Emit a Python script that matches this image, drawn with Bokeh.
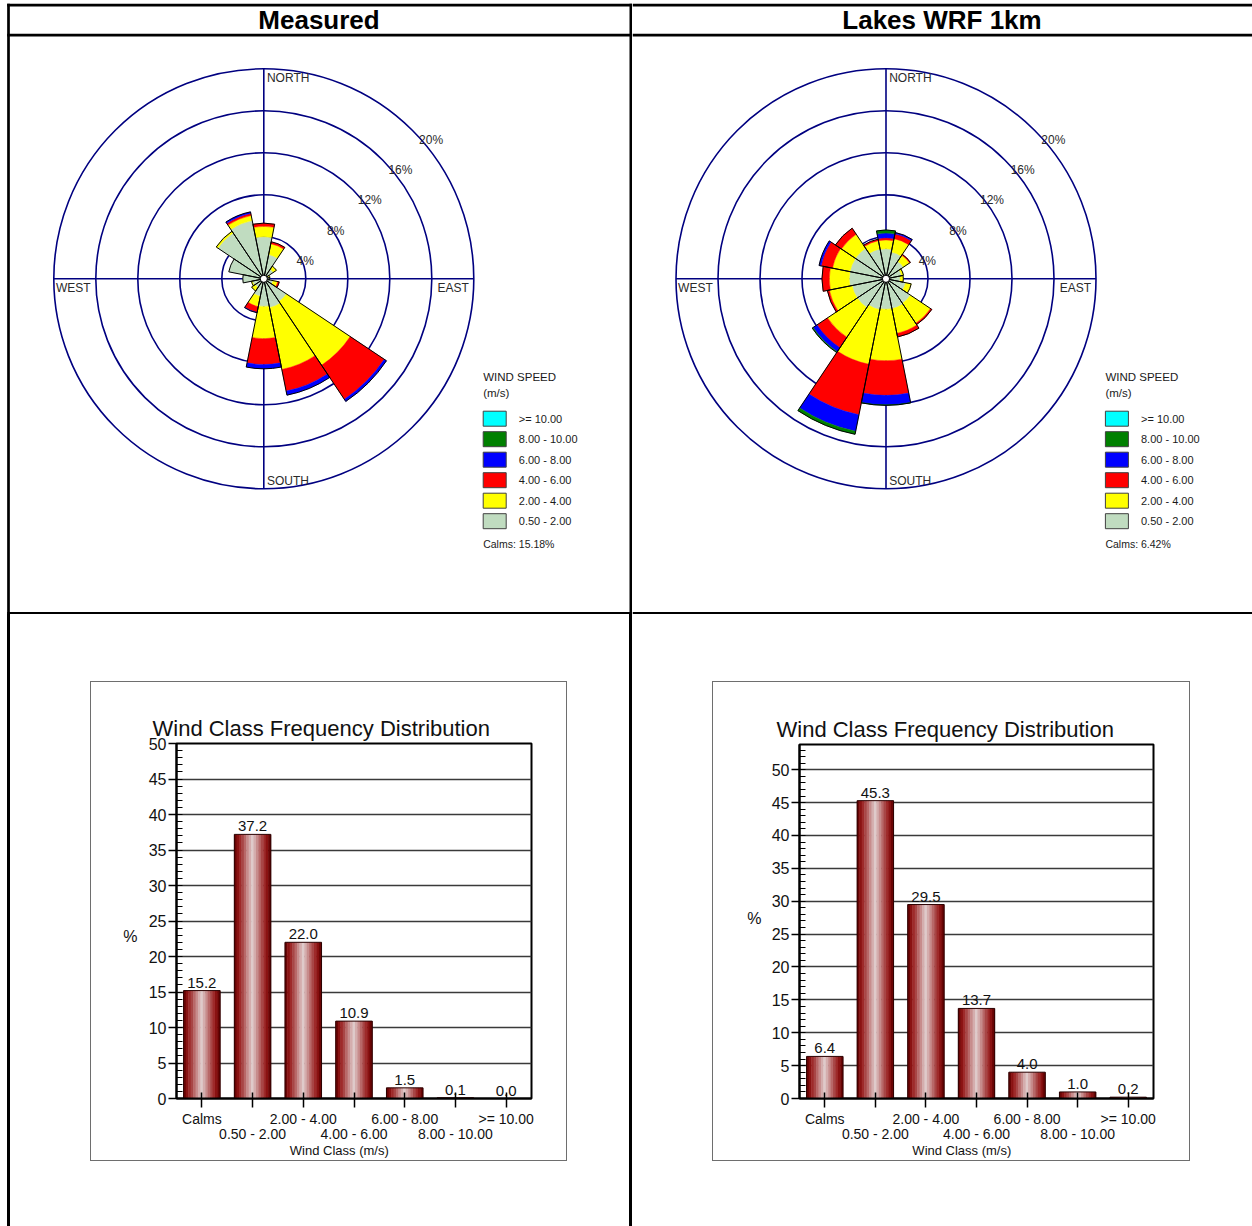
import numpy as np
from bokeh.plotting import figure
from bokeh.models import (Range1d, LinearAxis, FixedTicker, SingleIntervalTicker,
                          Grid, Spacer)
from bokeh.layouts import row, column
from bokeh.embed import file_html
from bokeh.resources import INLINE
from bokeh.core.properties import value

FONT = "Liberation Sans"
NAVY = "#000080"

# ---------------- wind rose data: % of hours per direction and speed class ----------------
directions = ["N", "NNE", "NE", "ENE", "E", "ESE", "SE", "SSE",
              "S", "SSW", "SW", "WSW", "W", "WNW", "NW", "NNW"]
speed_classes = ["0.50 - 2.00", "2.00 - 4.00", "4.00 - 6.00",
                 "6.00 - 8.00", "8.00 - 10.00", ">= 10.00"]
class_colors = ["#c0dcc0", "#ffff00", "#ff0000", "#0000ff", "#008000", "#00ffff"]

meas_05_2 = [4.0, 2.35, 1.1, 0.5, 0.55, 0.9, 2.6, 2.8, 2.63, 1.7, 1.0, 1.1, 2.0, 3.4, 5.25, 5.65]
meas_2_4 = [1.0, 1.05, 0.35, 0.1, 0.0, 0.45, 7.3, 6.0, 3.08, 1.0, 0.4, 0.1, 0.0, 0.0, 0.2, 0.5]
meas_4_6 = [0.3, 0.2, 0.0, 0.0, 0.0, 0.15, 3.9, 2.1, 2.45, 0.55, 0.0, 0.0, 0.0, 0.0, 0.0, 0.2]
meas_6_8 = [0.0, 0.0, 0.0, 0.0, 0.0, 0.0, 0.25, 0.4, 0.41, 0.05, 0.0, 0.0, 0.0, 0.0, 0.0, 0.15]
meas_8_10 = [0.0, 0.0, 0.0, 0.0, 0.0, 0.0, 0.0, 0.0, 0.0, 0.0, 0.0, 0.0, 0.0, 0.0, 0.0, 0.0]
meas_ge10 = [0.0, 0.0, 0.0, 0.0, 0.0, 0.0, 0.0, 0.0, 0.0, 0.0, 0.0, 0.0, 0.0, 0.0, 0.0, 0.0]

wrf_05_2 = [2.85, 2.6, 2.0, 1.5, 1.35, 1.9, 2.8, 2.9, 2.9, 3.0, 3.3, 3.3, 3.5, 3.5, 3.5, 2.9]
wrf_2_4 = [0.85, 1.3, 0.7, 0.2, 0.3, 0.55, 2.3, 2.4, 4.9, 5.3, 3.4, 2.2, 1.9, 1.7, 1.6, 0.8]
wrf_4_6 = [0.2, 0.45, 0.1, 0.0, 0.0, 0.0, 0.15, 0.35, 3.3, 4.9, 1.2, 0.2, 0.7, 1.1, 0.7, 0.15]
wrf_6_8 = [0.45, 0.15, 0.0, 0.0, 0.0, 0.0, 0.0, 0.0, 0.9, 1.6, 0.45, 0.0, 0.0, 0.2, 0.0, 0.0]
wrf_8_10 = [0.3, 0.0, 0.0, 0.0, 0.0, 0.0, 0.0, 0.0, 0.05, 0.3, 0.1, 0.0, 0.0, 0.0, 0.0, 0.0]
wrf_ge10 = [0.0, 0.0, 0.0, 0.0, 0.0, 0.0, 0.0, 0.0, 0.0, 0.0, 0.0, 0.0, 0.0, 0.0, 0.0, 0.0]

measured_rose = [meas_05_2, meas_2_4, meas_4_6, meas_6_8, meas_8_10, meas_ge10]
wrf_rose = [wrf_05_2, wrf_2_4, wrf_4_6, wrf_6_8, wrf_8_10, wrf_ge10]

calms_measured = "Calms: 15.18%"
calms_wrf = "Calms: 6.42%"
ring_pcts = [4, 8, 12, 16, 20]
ring_labels = ["4%", "8%", "12%", "16%", "20%"]

# ---------------- wind class frequency distribution ----------------
bar_classes = ["Calms", "0.50 - 2.00", "2.00 - 4.00", "4.00 - 6.00",
               "6.00 - 8.00", "8.00 - 10.00", ">= 10.00"]
meas_freq = [15.2, 37.2, 22.0, 10.9, 1.5, 0.1, 0.0]
wrf_freq = [6.4, 45.3, 29.5, 13.7, 4.0, 1.0, 0.2]

# shaded-cylinder look of the bars, edge to centre
half_shades = ["#6a0404", "#8a1212", "#9e2a2a", "#a84646", "#b86868",
               "#c78c8c", "#d4adad", "#dfcaca"]
bar_shades = half_shades + half_shades[-2::-1]

SCALE = 10.5      # pixels per percent on the roses
TOP_H = 614
BOT_H = 612
CY = 278.3


def rose_panel(cell_w, cx, title, title_cx, rose, calms, legend_x, left_cell):
    p = figure(width=cell_w, height=TOP_H,
               x_range=Range1d(-cx / SCALE, (cell_w - cx) / SCALE),
               y_range=Range1d(-(TOP_H - CY) / SCALE, CY / SCALE),
               x_axis_type=None, y_axis_type=None, min_border=0,
               toolbar_location=None, output_backend="svg")
    p.outline_line_color = None

    def X(px):
        return (px - cx) / SCALE

    def Y(py):
        return (CY - py) / SCALE

    # table rules
    xs = 6.7 if left_cell else 0.0
    p.segment(x0=[X(xs)] * 3, y0=[Y(4.7), Y(34.7), Y(612.6)],
              x1=[X(cell_w)] * 3, y1=[Y(4.7), Y(34.7), Y(612.6)],
              line_color="black", line_width=[2.7, 2.7, 2.4])
    if left_cell:
        p.segment(x0=[X(8.0), X(630.5)], y0=[Y(3.3), Y(3.3)],
                  x1=[X(8.0), X(630.5)], y1=[Y(TOP_H), Y(TOP_H)],
                  line_color="black", line_width=[2.7, 3.0])

    p.text(x=[X(title_cx)], y=[Y(19.8)], text=[title], text_align="center",
           text_baseline="middle", text_font=value(FONT), text_font_style="bold",
           text_font_size="26px", text_color="black")

    # rings and cross hairs
    R = ring_pcts[-1]
    p.circle(x=[0] * len(ring_pcts), y=[0] * len(ring_pcts), radius=ring_pcts,
             fill_color=None, line_color=NAVY, line_width=1.6)
    p.segment(x0=[-R, 0], y0=[0, -R], x1=[R, 0], y1=[0, R],
              line_color=NAVY, line_width=1.6)

    lab_kw = dict(text_font=value(FONT), text_font_size="12px",
                  text_color="#2a2a2a", text_baseline="middle", text_align="left")
    p.text(x=[0.3, 0.3, -R + 0.2, 16.55], y=[R - 0.85, -R + 0.7, -0.92, -0.92],
           text=["NORTH", "SOUTH", "WEST", "EAST"], **lab_kw)
    rp = np.array(ring_pcts, dtype=float)
    p.text(x=list(rp * 0.73 + 0.19), y=list(rp * 0.715 - 1.12), text=ring_labels, **lab_kw)

    # petals
    ang_c = np.deg2rad(90.0 - np.arange(len(directions)) * 22.5)
    half = np.deg2rad(11.25)
    start, end = ang_c - half, ang_c + half
    cum = np.zeros(len(directions))
    for vals, col in zip(rose, class_colors):
        v = np.array(vals, dtype=float)
        m = v > 0
        if m.any():
            p.annular_wedge(x=0, y=0, inner_radius=cum[m], outer_radius=(cum + v)[m],
                            start_angle=start[m], end_angle=end[m],
                            fill_color=col, line_color=col, line_width=0.4)
        cum = cum + v
    p.wedge(x=0, y=0, radius=cum, start_angle=start, end_angle=end,
            fill_color=None, line_color="black", line_width=1)
    p.circle(x=[0], y=[0], radius=0.34, fill_color="white", line_color="black", line_width=1)

    # speed legend
    leg_labels = speed_classes[::-1]
    leg_colors = class_colors[::-1]
    rows_y = [Y(418.2 + 20.5 * i) for i in range(len(leg_labels))]
    p.rect(x=[X(legend_x + 11.5)] * len(leg_labels), y=rows_y,
           width=23 / SCALE, height=15 / SCALE,
           fill_color=leg_colors, line_color="#404040", line_width=1)
    txt_kw = dict(text_font=value(FONT), text_color="#1a1a1a", text_baseline="middle",
                  text_align="left")
    p.text(x=[X(legend_x + 35.6)] * len(leg_labels), y=rows_y, text=leg_labels,
           text_font_size="11px", **txt_kw)
    p.text(x=[X(legend_x)] * 2, y=[Y(376.5), Y(392.0)], text=["WIND SPEED", "(m/s)"],
           text_font_size="11.5px", **txt_kw)
    p.text(x=[X(legend_x)], y=[Y(543.5)], text=[calms], text_font_size="10.5px", **txt_kw)
    return p


def block(w, h, color=None):
    if color is None:
        return Spacer(width=w, height=h)
    return Spacer(width=w, height=h, styles={"background-color": color})


def bar_chart(freq, fig_w, fig_h, f_left, f_top, f_w, f_h, ymax, title_offset,
              pct_px, pct_standoff):
    n = len(bar_classes)
    centers = np.arange(n) + 0.5
    sy = f_h / ymax
    p = figure(width=fig_w, height=fig_h,
               min_border_left=f_left, min_border_right=fig_w - f_left - f_w,
               min_border_top=f_top, min_border_bottom=fig_h - f_top - f_h,
               x_range=Range1d(0, n), y_range=Range1d(0, ymax),
               x_axis_type=None, y_axis_type=None,
               toolbar_location=None, output_backend="svg")
    p.outline_line_color = "black"
    p.outline_line_width = 2

    p.title.text = "Wind Class Frequency Distribution"
    p.title.align = "left"
    p.title.offset = title_offset
    p.title.standoff = 6
    p.title.text_font = FONT
    p.title.text_font_size = "22px"
    p.title.text_font_style = "normal"
    p.title.text_color = "#111111"

    txt = dict(major_label_text_font=FONT, major_label_text_color="#111111",
               minor_tick_line_color=None)
    bare = dict(axis_line_color=None, major_tick_line_color=None,
                major_tick_in=0, major_tick_out=0)

    # y axis with minor ticks inside
    yt = SingleIntervalTicker(interval=5, num_minor_ticks=5)
    yax = LinearAxis(ticker=yt, major_tick_in=0, major_tick_out=8,
                     minor_tick_in=6, minor_tick_out=0,
                     axis_line_width=2, major_tick_line_width=1.5,
                     minor_tick_line_width=1.2, major_label_standoff=2,
                     major_label_text_font=FONT, major_label_text_font_size="16px",
                     major_label_text_color="#111111")
    p.add_layout(yax, "left")
    # "%" unit caption beside the value scale
    pct_y = pct_px / sy
    yunit = LinearAxis(ticker=FixedTicker(ticks=[pct_y]), major_label_overrides={pct_y: "%"},
                       major_label_standoff=pct_standoff, major_label_text_font_size="16px",
                       **bare, **txt)
    p.add_layout(yunit, "left")
    p.add_layout(Grid(dimension=1, ticker=yt, grid_line_color="#3a3a3a",
                      grid_line_width=1.6))

    # x axis: class names on two staggered rows
    upper = {float(c): (lab if i % 2 == 0 else " ")
             for i, (c, lab) in enumerate(zip(centers, bar_classes))}
    lower = {float(c): lab for i, (c, lab) in enumerate(zip(centers, bar_classes)) if i % 2 == 1}
    xax1 = LinearAxis(ticker=FixedTicker(ticks=[float(c) for c in centers]),
                      major_label_overrides=upper, major_tick_in=6, major_tick_out=9,
                      major_tick_line_width=1.5, axis_line_width=2,
                      major_label_standoff=3, major_label_text_font_size="14px", **txt)
    xax2 = LinearAxis(ticker=FixedTicker(ticks=[float(c) for c in centers[1::2]]),
                      major_label_overrides=lower, major_label_standoff=-4,
                      major_label_text_font_size="14px", **bare, **txt)
    # axis caption, centred under the class labels
    cap_x = 3.21
    xcap = LinearAxis(ticker=FixedTicker(ticks=[cap_x]),
                      major_label_overrides={cap_x: "Wind Class (m/s)"},
                      major_label_standoff=-2, major_label_text_font_size="13px",
                      **bare, **txt)
    p.add_layout(xax1, "below")
    p.add_layout(xax2, "below")
    p.add_layout(xcap, "below")

    # bars
    bw = 0.72
    sw = bw / len(bar_shades)
    for j, col in enumerate(bar_shades):
        off = -bw / 2 + sw * (j + 0.5)
        p.vbar(x=centers + off, top=freq, width=sw * 1.2, bottom=0,
               fill_color=col, line_color=None)
    p.vbar(x=centers, top=freq, width=bw, bottom=0, fill_color=None,
           line_color="#2a0000", line_width=1)
    p.text(x=centers, y=freq, text=["%.1f" % v for v in freq], text_align="center",
           text_baseline="middle", y_offset=-8, text_font=value(FONT),
           text_font_size="15px", text_color="#111111")
    return p


def boxed(fig, w, h, color="#6e6e6e"):
    # thin grey frame around a chart, made of 1px strips
    return column(block(w, 1, color),
                  row(block(1, h - 2, color), fig, block(1, h - 2, color), spacing=0),
                  block(w, 1, color), spacing=0)


tl = rose_panel(632, 263.3, "Measured", 318.5, measured_rose, calms_measured, 482.7, True)
tr = rose_panel(620, 253.5, "Lakes WRF 1km", 309.5, wrf_rose, calms_wrf, 472.9, False)

chart_l = bar_chart(meas_freq, 475, 478, 85, 61, 355, 355, 50.0, -24, 162.0, 8)
chart_r = bar_chart(wrf_freq, 476, 478, 86, 62, 354, 354, 53.84, -23, 180.3, 7)

bottom_left = row(block(7, BOT_H), block(3, BOT_H, "black"), block(80, BOT_H),
                  column(block(477, 67), boxed(chart_l, 477, 480), block(477, 65), spacing=0),
                  block(62, BOT_H), block(3, BOT_H, "black"), spacing=0)
bottom_right = row(block(80, BOT_H),
                   column(block(478, 67), boxed(chart_r, 478, 480), block(478, 65), spacing=0),
                   block(62, BOT_H), spacing=0)

layout = column(row(tl, tr, spacing=0), row(bottom_left, bottom_right, spacing=0), spacing=0)

with open("out.html", "w") as f:
    f.write(file_html(layout, INLINE))
